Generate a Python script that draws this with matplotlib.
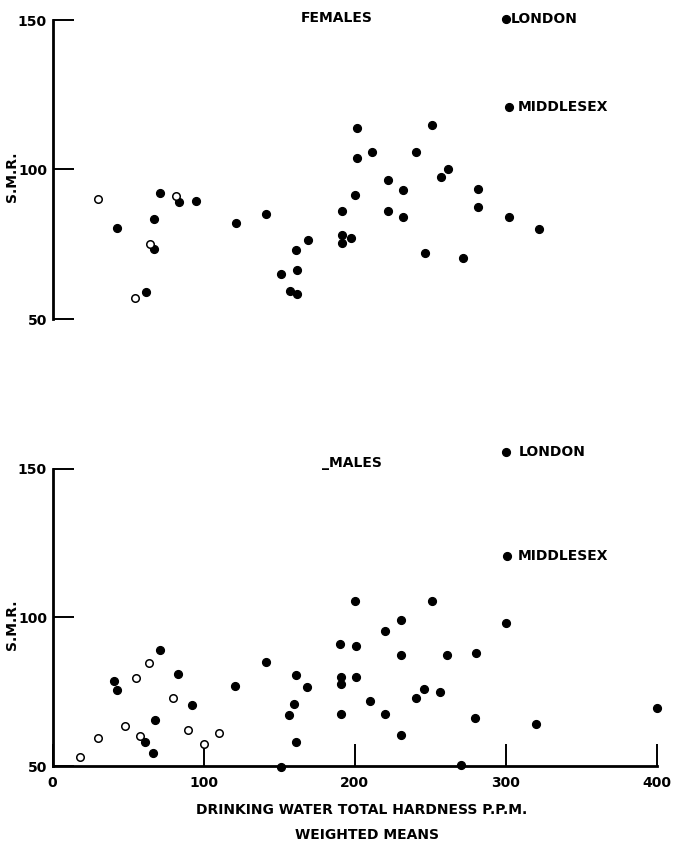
import matplotlib
matplotlib.use("Agg")
import matplotlib.pyplot as plt

# SMR against drinking water hardness, county boroughs, females and males
plt.rcParams["font.family"] = ["DejaVu Sans"]
plt.rcParams["font.weight"] = "bold"

# Females
fem_open_x = [30, 54.5, 64.5, 82]
fem_open_y = [90, 57, 75, 91]
fem_x = [43, 62, 67, 67.5, 71, 84, 95, 121.5, 141.5, 151.5, 157, 162, 162, 161.5,
         169, 192, 191.5, 192, 197.5, 200.5, 201.5, 201.5, 211.5, 222, 222.5, 232,
         232, 241, 247, 251.5, 257.5, 262, 272, 281.5, 282, 302, 322]
fem_y = [80.5, 59, 83.5, 73.5, 92, 89, 89.5, 82, 85, 65, 59.5, 58.5, 66.5, 73,
         76.5, 86, 78, 75.5, 77, 91.5, 104, 114, 106, 96.5, 86, 93, 84, 106, 72,
         115, 97.5, 100, 70.5, 87.5, 93.5, 84, 80]
fem_london = (300.5, 150.3)
fem_middlesex = (302, 121)

# Males
male_open_x = [18, 30, 48, 55, 58, 64, 80, 90, 100, 110.5]
male_open_y = [53, 59.5, 63.5, 79.5, 60, 84.5, 73, 62, 57.5, 61]
male_x = [41, 43, 61, 66.5, 68, 71.5, 83, 92.5, 121, 141.5, 151.5, 156.5, 160,
          161, 161, 168.5, 190.5, 191, 191, 191, 201, 200.5, 201, 210, 220.5, 220,
          230.5, 231, 230.5, 241, 246, 251, 256.5, 261, 270.5, 280.5, 280, 300.5,
          320, 400]
male_y = [78.5, 75.5, 58, 54.5, 65.5, 89, 81, 70.5, 77, 85, 49.5, 67, 71, 80.5,
          58, 76.5, 91, 80, 77.5, 67.5, 90.5, 105.5, 80, 72, 95.5, 67.5, 99, 87.5,
          60.5, 73, 76, 105.5, 75, 87.5, 50.5, 88, 66, 98, 64, 69.5]
male_london = (300.5, 155.5)
male_middlesex = (301, 120.5)

W, H = 673, 846
X0, X1 = 52.5, 656.5

FS = 10
DOT = dict(marker="o", linestyle="none", color="black", markersize=5.6,
           clip_on=False, zorder=3)
RING = dict(marker="o", linestyle="none", markerfacecolor="white",
            markeredgecolor="black", markeredgewidth=1.1, markersize=5.4,
            clip_on=False, zorder=3)


def make_axes(fig, top_px, bottom_px):
    ax = fig.add_axes([X0 / W, 1 - bottom_px / H, (X1 - X0) / W,
                       (bottom_px - top_px) / H])
    ax.set_xlim(0, 400)
    ax.set_ylim(50, 150)
    for s in ("top", "right"):
        ax.spines[s].set_visible(False)
    ax.spines["left"].set_linewidth(2)
    ax.set_yticks([50, 100, 150])
    ax.tick_params(axis="y", direction="in", length=15, width=1.4, pad=4,
                   labelsize=FS)
    ax.set_ylabel("S.M.R.", fontsize=FS, fontweight="bold")
    ax.yaxis.set_label_coords(-0.055, 0.475)
    return ax


def label_point(ax, pt, text, dx):
    ax.plot(*pt, **DOT)
    ax.annotate(text, pt, xytext=(dx, 0), textcoords="offset points",
                va="center", ha="left", fontsize=FS, fontweight="bold",
                annotation_clip=False)


fig = plt.figure(figsize=(W / 100, H / 100), dpi=100)

# upper panel: females, no x axis of its own
ax1 = make_axes(fig, 20, 319)
ax1.spines["bottom"].set_visible(False)
ax1.set_xticks([])
ax1.plot(fem_x, fem_y, **DOT)
ax1.plot(fem_open_x, fem_open_y, **RING)
label_point(ax1, fem_london, "LONDON", 3)
label_point(ax1, fem_middlesex, "MIDDLESEX", 7)
ax1.text(188, 150.7, "FEMALES", ha="center", va="center", fontsize=FS,
         fontweight="bold")

# lower panel: males
ax2 = make_axes(fig, 468.7, 766)
ax2.spines["bottom"].set_linewidth(2)
ax2.set_xticks([0, 100, 200, 300, 400])
ax2.tick_params(axis="x", direction="in", length=16, width=1.4, pad=7,
                labelsize=FS)
ax2.plot(male_x, male_y, **DOT)
ax2.plot(male_open_x, male_open_y, **RING)
label_point(ax2, male_london, "LONDON", 9)
label_point(ax2, male_middlesex, "MIDDLESEX", 8)
ax2.text(198, 151.9, "_MALES", ha="center", va="center", fontsize=FS,
         fontweight="bold")

fig.text(362 / W, 1 - 810 / H, "DRINKING WATER TOTAL HARDNESS P.P.M.",
         ha="center", va="center", fontsize=FS, fontweight="bold")
fig.text(367 / W, 1 - 835 / H, "WEIGHTED MEANS", ha="center", va="center",
         fontsize=FS, fontweight="bold")

fig.savefig("out.png", dpi=100)
